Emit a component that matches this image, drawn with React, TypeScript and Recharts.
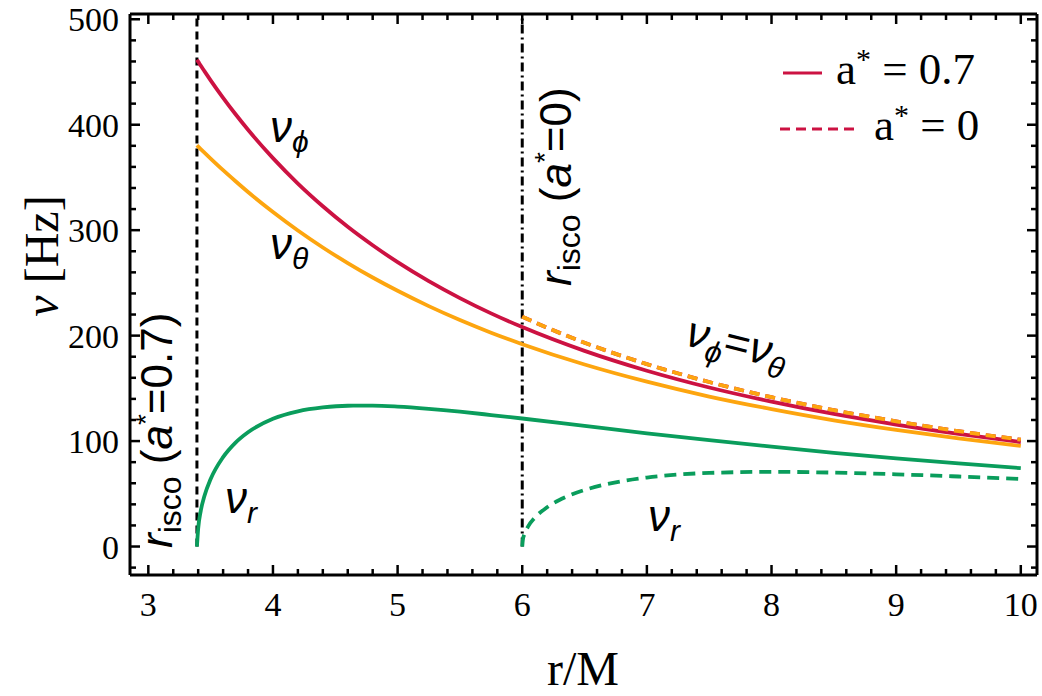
import { LineChart, Line, XAxis, YAxis, ReferenceLine } from "recharts";

const W = 1042;
const H = 696;

const RED = "#cc1242";
const ORANGE = "#fda50f";
const GREEN = "#0a9d5c";

// ISCO radii (r/M)
const R_ISCO_SPIN = 3.39;
const R_ISCO_NOSPIN = 6;

// a* = 0.7
const rSpin = [3.39, 3.4, 3.42, 3.45, 3.5, 3.6, 3.7, 3.8, 4.0, 4.2, 4.4, 4.6, 4.8, 5.0, 5.25, 5.5, 5.75, 6.0, 6.5, 7.0, 7.5, 8.0, 8.5, 9.0, 9.5, 10];
const nuPhiSpin = [461.6, 459.8, 456.1, 450.8, 442.1, 425.5, 409.9, 395.2, 368.3, 344.2, 322.7, 303.2, 285.7, 269.7, 251.7, 235.6, 221.1, 208.1, 185.5, 166.7, 150.8, 137.4, 125.7, 115.7, 106.9, 99.1];
const nuThetaSpin = [380.5, 379.3, 376.9, 373.5, 367.9, 356.9, 346.4, 336.2, 317.2, 299.7, 283.6, 268.8, 255.1, 242.5, 228.0, 214.8, 202.8, 191.9, 172.6, 156.3, 142.2, 130.3, 119.7, 110.6, 102.6, 95.4];
const nuRSpin = [0, 17.0, 33.4, 47.9, 64.0, 84.8, 98.6, 108.4, 121.1, 128.2, 131.9, 133.5, 133.6, 132.7, 130.6, 127.9, 124.7, 121.4, 114.4, 107.4, 100.8, 94.7, 88.9, 83.6, 78.8, 74.3];

// a* = 0 (nu_phi = nu_theta)
const rNoSpin = [6.0, 6.005, 6.02, 6.05, 6.1, 6.2, 6.35, 6.5, 6.75, 7.0, 7.5, 8.0, 8.5, 9.0, 9.5, 10];
const nuPhiNoSpin = [218.0, 217.7, 216.9, 215.3, 212.7, 207.5, 200.2, 193.3, 182.7, 173.0, 156.0, 141.6, 129.3, 118.7, 109.4, 101.3];
const nuRNoSpin = [0, 6.3, 12.5, 19.6, 27.2, 37.3, 47.0, 53.6, 60.9, 65.4, 69.8, 70.8, 70.1, 68.5, 66.4, 64.1];

const X_DOMAIN = [2.853, 10.13];
const Y_DOMAIN = [-27, 505];
const X_MAJOR = [3, 4, 5, 6, 7, 8, 9, 10];
const Y_MAJOR = [0, 100, 200, 300, 400, 500];

const xTicks: number[] = [];
for (let i = 15; i <= 50; i++) xTicks.push(Math.round(i * 2) / 10);
const yTicks: number[] = [];
for (let v = -20; v <= 500; v += 20) yTicks.push(v);

const pts = (xs: number[], ys: number[]) => xs.map((x, i) => ({ x, y: ys[i] }));

const SERIF = "'Liberation Serif', 'Times New Roman', serif";
const SANS = "'Liberation Sans', Arial, sans-serif";

function tickFor(side: "bottom" | "top" | "left" | "right", majors: number[], labels: boolean) {
  return (p: any) => {
    const v = p.payload.value;
    const major = majors.includes(v);
    const len = major ? 10 : 6;
    const { x, y } = p;
    let line;
    if (side === "bottom") line = <line x1={x} y1={y} x2={x} y2={y - len} />;
    else if (side === "top") line = <line x1={x} y1={y} x2={x} y2={y + len} />;
    else if (side === "left") line = <line x1={x} y1={y} x2={x + len} y2={y} />;
    else line = <line x1={x} y1={y} x2={x - len} y2={y} />;
    return (
      <g stroke="#000" strokeWidth={2.5}>
        {line}
        {labels && major && side === "bottom" && (
          <text x={x} y={y + 41} textAnchor="middle" fontFamily={SERIF} fontSize={34} fill="#000" stroke="none">
            {v}
          </text>
        )}
        {labels && major && side === "left" && (
          <text x={x - 11} y={y + 12} textAnchor="end" fontFamily={SERIF} fontSize={34} fill="#000" stroke="none">
            {v}
          </text>
        )}
      </g>
    );
  };
}

function Annotations() {
  return (
    <svg width={W} height={H} style={{ position: "absolute", left: 0, top: 0, pointerEvents: "none" }}>
      {/* axis titles */}
      <text x={583} y={685} textAnchor="middle" fontFamily={SERIF} fontSize={48}>r/M</text>
      <text transform="translate(58,256) rotate(-90)" textAnchor="middle" fontFamily={SERIF} fontSize={48}>
        <tspan fontStyle="italic">ν</tspan> [Hz]
      </text>

      {/* legend */}
      <line x1={783} y1={73} x2={822} y2={73} stroke={RED} strokeWidth={3} />
      <text x={836} y={84} fontFamily={SERIF} fontSize={45}>
        a<tspan fontSize={30} dy={-15}>*</tspan><tspan dy={15}> = 0.7</tspan>
      </text>
      <line x1={780} y1={129} x2={857} y2={129} stroke={RED} strokeWidth={3} strokeDasharray="10 6" />
      <text x={874} y={140} fontFamily={SERIF} fontSize={45}>
        a<tspan fontSize={30} dy={-15}>*</tspan><tspan dy={15}> = 0</tspan>
      </text>

      {/* curve labels */}
      <g fontFamily={SANS} fontStyle="italic">
        <text x={270} y={142} fontSize={44}>ν<tspan fontSize={30} dy={10}>ϕ</tspan></text>
        <text x={270} y={259} fontSize={44}>ν<tspan fontSize={30} dy={10}>θ</tspan></text>
        <text x={225} y={513} fontSize={44}>ν<tspan fontSize={30} dy={10}>r</tspan></text>
        <text x={648} y={531} fontSize={44}>ν<tspan fontSize={30} dy={10}>r</tspan></text>
        <text transform="translate(684,345) rotate(14)" fontSize={44}>
          ν<tspan fontSize={30} dy={10}>ϕ</tspan><tspan fontStyle="normal" dy={-10}>=</tspan>ν<tspan fontSize={30} dy={10}>θ</tspan>
        </text>
      </g>

      {/* ISCO labels */}
      <text transform="translate(172,548) rotate(-90)" fontFamily={SANS} fontSize={44}>
        <tspan fontStyle="italic">r</tspan>
        <tspan fontSize={32} dy={9}>isco</tspan>
        <tspan dy={-9}> (</tspan>
        <tspan fontStyle="italic">a</tspan>
        <tspan fontSize={28} dy={-17}>*</tspan>
        <tspan dy={17}>=0.7)</tspan>
      </text>
      <text transform="translate(571,286) rotate(-90)" fontFamily={SANS} fontSize={44}>
        <tspan fontStyle="italic">r</tspan>
        <tspan fontSize={32} dy={9}>isco</tspan>
        <tspan dy={-9}> (</tspan>
        <tspan fontStyle="italic">a</tspan>
        <tspan fontSize={28} dy={-17}>*</tspan>
        <tspan dy={17}>=0)</tspan>
      </text>
    </svg>
  );
}

export default function App() {
  return (
    <div style={{ position: "absolute", left: 0, top: 0, width: W, height: H, background: "#fff" }}>
      <LineChart width={W} height={H} margin={{ top: 13, right: 4, bottom: 11, left: 10 }}>
        <XAxis
          xAxisId="b" dataKey="x" type="number" domain={X_DOMAIN} ticks={xTicks} interval={0}
          allowDataOverflow height={110} tickSize={0} tickMargin={0} tickLine={false}
          axisLine={{ stroke: "#000", strokeWidth: 3 }} tick={tickFor("bottom", X_MAJOR, true)}
        />
        <XAxis
          xAxisId="t" orientation="top" dataKey="x" type="number" domain={X_DOMAIN} ticks={xTicks} interval={0}
          allowDataOverflow height={1} tickSize={0} tickMargin={0} tickLine={false}
          axisLine={{ stroke: "#000", strokeWidth: 3 }} tick={tickFor("top", X_MAJOR, false)}
        />
        <YAxis
          yAxisId="l" type="number" domain={Y_DOMAIN} ticks={yTicks} interval={0}
          allowDataOverflow width={120} tickSize={0} tickMargin={0} tickLine={false}
          axisLine={{ stroke: "#000", strokeWidth: 3 }} tick={tickFor("left", Y_MAJOR, true)}
        />
        <YAxis
          yAxisId="r" orientation="right" type="number" domain={Y_DOMAIN} ticks={yTicks} interval={0}
          allowDataOverflow width={1} tickSize={0} tickMargin={0} tickLine={false}
          axisLine={{ stroke: "#000", strokeWidth: 3 }} tick={tickFor("right", Y_MAJOR, false)}
        />

        <ReferenceLine xAxisId="b" yAxisId="l" segment={[{ x: R_ISCO_SPIN, y: 0 }, { x: R_ISCO_SPIN, y: 505 }]}
          stroke="#000" strokeWidth={3} strokeDasharray="8 5" />
        <ReferenceLine xAxisId="b" yAxisId="l" segment={[{ x: R_ISCO_NOSPIN, y: 0 }, { x: R_ISCO_NOSPIN, y: 505 }]}
          stroke="#000" strokeWidth={3} strokeDasharray="9 4 2 4" />

        <Line xAxisId="b" yAxisId="l" data={pts(rSpin, nuRSpin)} dataKey="y" type="monotone"
          stroke={GREEN} strokeWidth={3.8} dot={false} isAnimationActive={false} />
        <Line xAxisId="b" yAxisId="l" data={pts(rNoSpin, nuRNoSpin)} dataKey="y" type="monotone"
          stroke={GREEN} strokeWidth={3.8} strokeDasharray="12 7" dot={false} isAnimationActive={false} />
        <Line xAxisId="b" yAxisId="l" data={pts(rSpin, nuThetaSpin)} dataKey="y" type="monotone"
          stroke={ORANGE} strokeWidth={3.8} dot={false} isAnimationActive={false} />
        <Line xAxisId="b" yAxisId="l" data={pts(rSpin, nuPhiSpin)} dataKey="y" type="monotone"
          stroke={RED} strokeWidth={3.8} dot={false} isAnimationActive={false} />
        <Line xAxisId="b" yAxisId="l" data={pts(rNoSpin, nuPhiNoSpin)} dataKey="y" type="monotone"
          stroke={RED} strokeWidth={3.8} strokeDasharray="10 6" dot={false} isAnimationActive={false} />
        <Line xAxisId="b" yAxisId="l" data={pts(rNoSpin, nuPhiNoSpin)} dataKey="y" type="monotone"
          stroke={ORANGE} strokeWidth={3.8} strokeDasharray="10 6" dot={false} isAnimationActive={false} />
      </LineChart>
      <Annotations />
    </div>
  );
}
